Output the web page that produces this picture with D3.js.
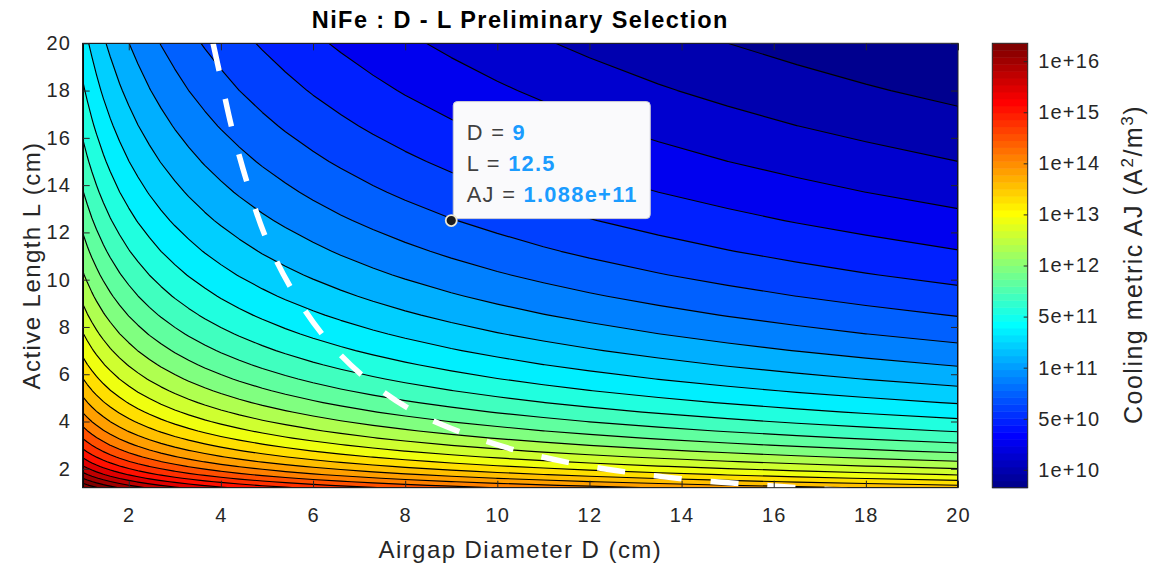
<!DOCTYPE html>
<html>
<head>
<meta charset="utf-8">
<script src="https://cdn.jsdelivr.net/npm/d3@7"></script>
<style>
  html, body { margin: 0; padding: 0; background: #ffffff; }
  svg { display: block; font-family: "Liberation Sans", Arial, Helvetica, sans-serif; }
</style>
</head>
<body>
<svg id="chart" width="1154" height="568"></svg>
<script>
// ---- Data -----------------------------------------------------------------
// Airgap diameters D (cm) of the evaluation grid
const diameters = [1, 1.1, 1.2, 1.3, 1.45, 1.6, 1.8, 2, 2.2, 2.45, 2.7, 3, 3.3, 3.65, 4,
  4.4, 4.9, 5.4, 6, 6.6, 7.3, 8, 9, 10, 11, 12, 13.5, 15, 16.5, 18, 20];
// Active lengths L (cm) of the evaluation grid
const lengths = [1.2, 1.3, 1.45, 1.6, 1.75, 1.9, 2.1, 2.3, 2.5, 2.75, 3, 3.3, 3.6, 4, 4.4,
  4.8, 5.3, 5.8, 6.4, 7, 7.7, 8.5, 9.3, 10.2, 11.2, 12.5, 13.7, 15, 16.5, 18, 20];
// Cooling metric AJ (A^2/m^3) for each diameter at L = 10 cm
const ajAtL10 = [2.1516e13, 1.7782e13, 1.4942e13, 1.2731e13, 1.0233e13, 8.4046e12,
  6.6407e12, 5.3789e12, 4.4454e12, 3.5845e12, 2.9514e12, 2.3906e12, 1.9757e12,
  1.6150e12, 1.3447e12, 1.1114e12, 8.9612e11, 7.3785e11, 5.9766e11, 4.9393e11,
  4.0375e11, 3.3618e11, 2.6563e11, 2.1516e11, 1.7782e11, 1.4942e11, 1.1806e11,
  9.5625e10, 7.9030e10, 6.6407e10, 5.3789e10];
// AJ(L) / AJ(L = 10 cm) for each active length
const lengthRatio = [4822.5, 3501.4, 2262.2, 1525.9, 1066.2, 767.34, 514.20, 357.36,
  256, 174.85, 123.46, 84.322, 59.537, 39.0625, 26.680, 18.838, 12.674, 8.8370,
  5.9605, 4.1649, 2.8447, 1.9158, 1.3369, 0.92385, 0.63551, 0.4096, 0.28387,
  0.19753, 0.13492, 0.095260, 0.0625];

// Preliminary sizing boundary (white dashed curve)
const boundaryD = [3.83, 4.0, 4.24, 4.57, 4.96, 5.55, 6.26, 7.13, 8.17, 9.34, 10.56,
  11.8, 13.04, 14.3, 15.56, 16.8, 17.6];
const boundaryL = [20.0, 18.5, 16.4, 14.1, 11.85, 9.55, 7.55, 5.85, 4.45, 3.45, 2.70,
  2.17, 1.80, 1.52, 1.33, 1.17, 1.08];

// Contour levels (log10 AJ), evenly spaced between the grid extremes
const levelExponents = [9.7763, 10.0259, 10.2756, 10.5252, 10.7749, 11.0245, 11.2742,
  11.5238, 11.7735, 12.0231, 12.2728, 12.5224, 12.7721, 13.0217, 13.2714, 13.5210,
  13.7707, 14.0203, 14.2700, 14.5196, 14.7693, 15.0189, 15.2686, 15.5182, 15.7679,
  16.0175, 16.2672, 16.5168, 16.7665];

// Axis ticks and colour-bar labels
const xTicks = [2, 4, 6, 8, 10, 12, 14, 16, 18, 20];
const yTicks = [2, 4, 6, 8, 10, 12, 14, 16, 18, 20];
const colorbarLabels = ["1e+10", "5e+10", "1e+11", "5e+11", "1e+12", "1e+13", "1e+14", "1e+15", "1e+16"];

// Selected design point shown in the data tip
const tipD = 9;
const tipL = 12.5;

// ---- Layout ---------------------------------------------------------------
const plot = { left: 82.7, right: 958, top: 43.3, bottom: 487.7 };
const cbar = { left: 992.3, right: 1027.7, top: 43.3, bottom: 487.7 };
const axisColor = "#262626";
const tickFont = 20;
const labelFont = 24;
const spacing = "0.06em";

const svg = d3.select("#chart");

const x = d3.scaleLinear().domain([1, 20]).range([plot.left, plot.right]);
const y = d3.scaleLinear().domain([1.2, 20]).range([plot.bottom, plot.top]);

// ---- Grid of log10(AJ) ------------------------------------------------------
const nx = diameters.length, ny = lengths.length;
const grid = new Array(nx * ny);
for (let j = 0; j < ny; j++) {
  for (let i = 0; i < nx; i++) {
    grid[j * nx + i] = Math.log10(ajAtL10[i] * lengthRatio[j]);
  }
}

// MATLAB-style 64-entry jet colour map
function jetRow(k) {
  const u = j => (j >= 1 && j <= 47) ? (j <= 16 ? j / 16 : (j <= 31 ? 1 : (48 - j) / 16)) : 0;
  return d3.rgb(Math.round(u(k - 24) * 255), Math.round(u(k - 8) * 255), Math.round(u(k + 8) * 255));
}
// colour limits follow the contour level range
const lo = levelExponents[0], hi = levelExponents[levelExponents.length - 1];
function colorAt(v) {
  let k = Math.floor((v - lo) / (hi - lo) * 64) + 1;
  k = Math.max(1, Math.min(64, k));
  return jetRow(k).toString();
}
// each filled band takes the colour of the level that bounds it from above
function bandColor(i) {
  return colorAt(levelExponents[Math.min(i + 1, levelExponents.length - 1)]);
}

// grid cell centres (contour space) -> data coordinates
const dAt = d3.scaleLinear().domain(diameters.map((_, i) => i + 0.5)).range(diameters).clamp(true);
const lAt = d3.scaleLinear().domain(lengths.map((_, j) => j + 0.5)).range(lengths).clamp(true);
const toScreen = d3.geoTransform({
  point(px, py) { this.stream.point(x(dAt(px)), y(lAt(py))); }
});
const path = d3.geoPath(toScreen);

const bands = d3.contours().size([nx, ny]).thresholds(levelExponents)(grid);

// ---- Filled contour plot --------------------------------------------------
const defs = svg.append("defs");
defs.append("clipPath").attr("id", "plot-clip")
  .append("rect")
  .attr("x", plot.left).attr("y", plot.top)
  .attr("width", plot.right - plot.left).attr("height", plot.bottom - plot.top);

const gPlot = svg.append("g").attr("clip-path", "url(#plot-clip)");
gPlot.append("rect")
  .attr("x", plot.left).attr("y", plot.top)
  .attr("width", plot.right - plot.left).attr("height", plot.bottom - plot.top)
  .attr("fill", colorAt(lo));

gPlot.append("g").selectAll("path").data(bands).join("path")
  .attr("d", path)
  .attr("fill", (d, i) => bandColor(i))
  .attr("stroke", (d, i) => bandColor(i))
  .attr("stroke-width", 0.4);

gPlot.append("g").selectAll("path").data(bands).join("path")
  .attr("d", path)
  .attr("fill", "none")
  .attr("stroke", "#000")
  .attr("stroke-width", 1.15)
  .attr("stroke-linejoin", "round");

// dashed sizing boundary
const boundary = boundaryD.map((d, i) => ({ D: d, L: boundaryL[i] }));
gPlot.append("path")
  .datum(boundary)
  .attr("d", d3.line().x(d => x(d.D)).y(d => y(d.L)).curve(d3.curveCatmullRom))
  .attr("fill", "none")
  .attr("stroke", "#ffffff")
  .attr("stroke-width", 5.5)
  .attr("stroke-dasharray", "28,29");

// ---- Axes -----------------------------------------------------------------
function styleAxis(g, showText) {
  g.attr("font-family", null).attr("font-size", null);
  g.select(".domain").remove();
  g.selectAll(".tick line").attr("stroke", axisColor).attr("stroke-width", 1);
  if (showText) {
    g.selectAll(".tick text")
      .attr("fill", axisColor)
      .attr("font-size", tickFont)
      .style("letter-spacing", spacing);
  } else {
    g.selectAll(".tick text").remove();
  }
}

svg.append("g").attr("transform", `translate(0,${plot.bottom})`)
  .call(d3.axisBottom(x).tickValues(xTicks).tickSizeInner(-7).tickSizeOuter(0).tickPadding(20))
  .call(g => styleAxis(g, true));
svg.append("g").attr("transform", `translate(0,${plot.top})`)
  .call(d3.axisTop(x).tickValues(xTicks).tickSizeInner(-7).tickSizeOuter(0))
  .call(g => styleAxis(g, false));
svg.append("g").attr("transform", `translate(${plot.left},0)`)
  .call(d3.axisLeft(y).tickValues(yTicks).tickSizeInner(-7).tickSizeOuter(0).tickPadding(11.5))
  .call(g => styleAxis(g, true));
svg.append("g").attr("transform", `translate(${plot.right},0)`)
  .call(d3.axisRight(y).tickValues(yTicks).tickSizeInner(-7).tickSizeOuter(0))
  .call(g => styleAxis(g, false));

svg.append("rect")
  .attr("x", plot.left).attr("y", plot.top)
  .attr("width", plot.right - plot.left).attr("height", plot.bottom - plot.top)
  .attr("fill", "none").attr("stroke", axisColor).attr("stroke-width", 1);

// ---- Data tip -------------------------------------------------------------
const ti = diameters.indexOf(tipD), tj = lengths.indexOf(tipL);
const tipAJ = ajAtL10[ti] * lengthRatio[tj];
const mx = x(tipD), my = y(tipL);
const box = { w: 197, h: 117 };
const tip = svg.append("g").attr("transform", `translate(${mx + 2},${my - 2 - box.h})`);
tip.append("rect")
  .attr("width", box.w).attr("height", box.h).attr("rx", 4)
  .attr("fill", "#fafafc").attr("stroke", "#cfcfd4").attr("stroke-width", 1);
const tipRows = [
  { name: "D", value: d3.format("")(tipD) },
  { name: "L", value: d3.format("")(tipL) },
  { name: "AJ", value: d3.format(".3e")(tipAJ) }
];
tipRows.forEach((r, i) => {
  const t = tip.append("text")
    .attr("x", 13.5).attr("y", 38.5 + i * 30.8)
    .attr("font-size", 21.8)
    .style("letter-spacing", spacing);
  t.append("tspan").attr("fill", "#404040").text(r.name + " = ");
  t.append("tspan").attr("fill", "#1a9cff").attr("font-weight", "bold").text(r.value);
});
svg.append("circle")
  .attr("cx", mx).attr("cy", my).attr("r", 5.5)
  .attr("fill", "#1c1c1c").attr("stroke", "#efe9d2").attr("stroke-width", 1.8);

// ---- Colour bar -----------------------------------------------------------
const cbIndex = d3.scaleLinear().domain([0, 64]).range([cbar.bottom, cbar.top]);
svg.append("g").selectAll("rect").data(d3.range(1, 65)).join("rect")
  .attr("x", cbar.left)
  .attr("y", k => cbIndex(k))
  .attr("width", cbar.right - cbar.left)
  .attr("height", k => cbIndex(k - 1) - cbIndex(k) + 0.5)
  .attr("fill", k => jetRow(k).toString());

const cbScale = d3.scalePoint().domain(colorbarLabels).range([cbar.bottom, cbar.top]).padding(0.35);
svg.append("g").attr("transform", `translate(${cbar.right},0)`)
  .call(d3.axisRight(cbScale).tickSizeInner(-4).tickSizeOuter(0).tickPadding(10.5))
  .call(g => styleAxis(g, true));
svg.append("rect")
  .attr("x", cbar.left).attr("y", cbar.top)
  .attr("width", cbar.right - cbar.left).attr("height", cbar.bottom - cbar.top)
  .attr("fill", "none").attr("stroke", axisColor).attr("stroke-width", 1);

// ---- Titles and labels ----------------------------------------------------
svg.append("text")
  .attr("x", (plot.left + plot.right) / 2).attr("y", 28)
  .attr("text-anchor", "middle").attr("font-size", 23.5).attr("font-weight", "bold")
  .attr("fill", "#000").style("letter-spacing", spacing)
  .text("NiFe : D - L Preliminary Selection");

svg.append("text")
  .attr("x", (plot.left + plot.right) / 2).attr("y", 558)
  .attr("text-anchor", "middle").attr("font-size", labelFont)
  .attr("fill", axisColor).style("letter-spacing", spacing)
  .text("Airgap Diameter D (cm)");

svg.append("text")
  .attr("transform", `translate(40,${(plot.top + plot.bottom) / 2}) rotate(-90)`)
  .attr("text-anchor", "middle").attr("font-size", labelFont)
  .attr("fill", axisColor).style("letter-spacing", spacing)
  .text("Active Length L (cm)");

const cbTitle = svg.append("text")
  .attr("transform", `translate(1142,${(cbar.top + cbar.bottom) / 2 - 1}) rotate(-90)`)
  .attr("text-anchor", "middle").attr("font-size", 25)
  .attr("fill", axisColor).style("letter-spacing", spacing);
cbTitle.append("tspan").text("Cooling metric AJ (A");
cbTitle.append("tspan").attr("baseline-shift", "super").attr("font-size", 17).text("2");
cbTitle.append("tspan").text("/m");
cbTitle.append("tspan").attr("baseline-shift", "super").attr("font-size", 17).text("3");
cbTitle.append("tspan").text(")");
</script>
</body>
</html>
